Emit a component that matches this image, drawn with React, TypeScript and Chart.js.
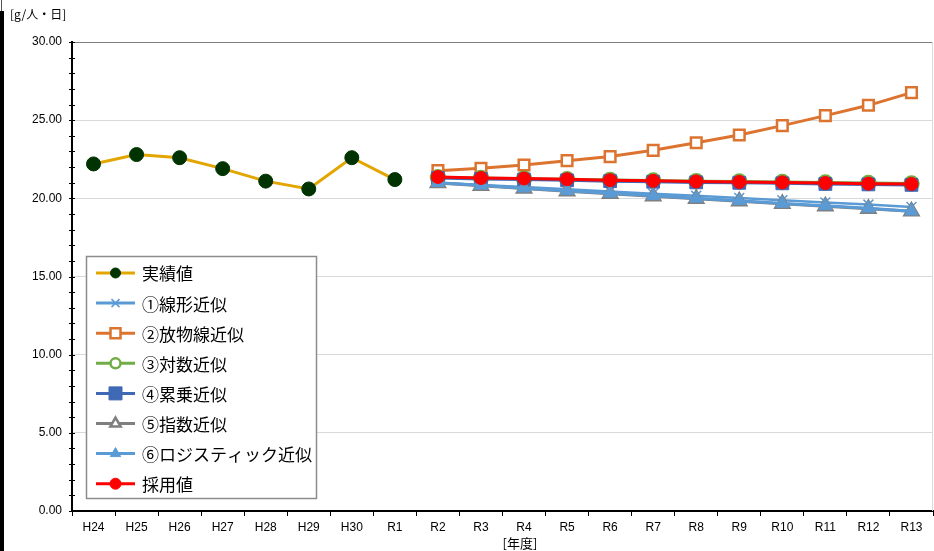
import React, { useEffect, useRef } from 'react';
import { Chart, registerables } from 'chart.js';

Chart.register(...registerables);

const categories = ['H24', 'H25', 'H26', 'H27', 'H28', 'H29', 'H30', 'R1', 'R2', 'R3', 'R4', 'R5', 'R6', 'R7', 'R8', 'R9', 'R10', 'R11', 'R12', 'R13'];
const yTickValues = [0, 5, 10, 15, 20, 25, 30];

const actualValues = [22.2, 22.8, 22.6, 21.9, 21.1, 20.6, 22.6, 21.2];
const linearValues = [21.0, 20.86, 20.72, 20.58, 20.44, 20.3, 20.16, 20.02, 19.88, 19.74, 19.6, 19.45];
const parabolicValues = [21.77, 21.92, 22.13, 22.41, 22.67, 23.07, 23.56, 24.05, 24.65, 25.29, 25.95, 26.76];
const logarithmicValues = [21.35, 21.3, 21.26, 21.22, 21.18, 21.14, 21.1, 21.07, 21.04, 21.01, 20.98, 20.95];
const powerValues = [21.3, 21.24, 21.2, 21.15, 21.1, 21.06, 21.02, 20.99, 20.96, 20.92, 20.89, 20.86];
const exponentialValues = [20.98, 20.81, 20.63, 20.46, 20.29, 20.13, 19.97, 19.81, 19.65, 19.49, 19.33, 19.17];
const logisticValues = [21.0, 20.83, 20.65, 20.48, 20.32, 20.16, 20.0, 19.84, 19.67, 19.52, 19.36, 19.18];
const adoptedValues = [21.37, 21.3, 21.27, 21.22, 21.16, 21.12, 21.08, 21.05, 21.02, 20.98, 20.94, 20.92];

const seriesNames = ['実績値', '①線形近似', '②放物線近似', '③対数近似', '④累乗近似', '⑤指数近似', '⑥ロジスティック近似', '採用値'];

const padActual = (arr: number[]) => [...arr, ...Array(categories.length - arr.length).fill(null)];
const padForecast = (arr: number[]) => [...Array(categories.length - arr.length).fill(null), ...arr];

type LegendSpec = { style: string; r: number; fill: string; stroke: string; lw: number; line: string; lineW: number };

const legendSpecs: LegendSpec[] = [
  { style: 'circle', r: 5, fill: '#003300', stroke: '#003300', lw: 1, line: '#E3A600', lineW: 3 },
  { style: 'crossRot', r: 4, fill: '#5B9BD5', stroke: '#5B9BD5', lw: 1.5, line: '#5B9BD5', lineW: 3 },
  { style: 'rect', r: 5, fill: '#FFFFFF', stroke: '#DC7430', lw: 2.5, line: '#DC7430', lineW: 3 },
  { style: 'circle', r: 5, fill: '#FFFFFF', stroke: '#70AD47', lw: 2.5, line: '#70AD47', lineW: 3 },
  { style: 'rect', r: 6.5, fill: '#3F68B5', stroke: '#3F68B5', lw: 1, line: '#3F68B5', lineW: 3 },
  { style: 'triangle', r: 6, fill: '#FFFFFF', stroke: '#7F7F7F', lw: 2.5, line: '#7F7F7F', lineW: 3 },
  { style: 'triangle', r: 6, fill: '#5B9BD5', stroke: '#5B9BD5', lw: 1, line: '#5B9BD5', lineW: 3 },
  { style: 'circle', r: 5.5, fill: '#FF0000', stroke: '#FF0000', lw: 1, line: '#FF0000', lineW: 3 },
];

function drawMarker(ctx: CanvasRenderingContext2D, s: LegendSpec, x: number, y: number) {
  const r = s.r;
  ctx.beginPath();
  if (s.style === 'circle') {
    ctx.arc(x, y, r, 0, Math.PI * 2);
  } else if (s.style === 'rect') {
    ctx.rect(x - r, y - r, 2 * r, 2 * r);
  } else if (s.style === 'triangle') {
    ctx.moveTo(x, y - r);
    ctx.lineTo(x + r * 0.866, y + r * 0.5);
    ctx.lineTo(x - r * 0.866, y + r * 0.5);
    ctx.closePath();
  } else if (s.style === 'crossRot') {
    ctx.moveTo(x - r, y - r);
    ctx.lineTo(x + r, y + r);
    ctx.moveTo(x - r, y + r);
    ctx.lineTo(x + r, y - r);
  }
  if (s.style !== 'crossRot') {
    ctx.fillStyle = s.fill;
    ctx.fill();
  }
  ctx.strokeStyle = s.stroke;
  ctx.lineWidth = s.lw;
  ctx.stroke();
}

const decorPlugin = {
  id: 'decor',
  afterDraw(chart: any) {
    const ctx: CanvasRenderingContext2D = chart.ctx;
    const area = chart.chartArea;
    const yScale = chart.scales.y;
    ctx.save();
    ctx.strokeStyle = '#D9D9D9';
    ctx.lineWidth = 1;
    ctx.beginPath();
    ctx.moveTo(area.right - 0.5, area.top);
    ctx.lineTo(area.right - 0.5, area.bottom);
    ctx.stroke();
    ctx.strokeStyle = '#000000';
    ctx.lineWidth = 1;
    for (let v = 0; v <= 30; v++) {
      const y = Math.round(yScale.getPixelForValue(v)) + 0.5;
      ctx.beginPath();
      ctx.moveTo(area.left - 3, y);
      ctx.lineTo(area.left + 3, y);
      ctx.stroke();
    }
    const x0 = 86.5, y0 = 256.5, w = 230, h = 242;
    ctx.fillStyle = '#FFFFFF';
    ctx.fillRect(x0, y0, w, h);
    ctx.strokeStyle = '#8C8C8C';
    ctx.lineWidth = 1.5;
    ctx.strokeRect(x0, y0, w, h);
    ctx.font = '17px "Noto Sans CJK JP"';
    ctx.textBaseline = 'middle';
    ctx.textAlign = 'left';
    seriesNames.forEach((name, i) => {
      const y = 273 + i * 30.1;
      const s = legendSpecs[i];
      ctx.strokeStyle = s.line;
      ctx.lineWidth = s.lineW;
      ctx.beginPath();
      ctx.moveTo(96, y);
      ctx.lineTo(135, y);
      ctx.stroke();
      drawMarker(ctx, s, 115.5, y);
      ctx.fillStyle = '#000000';
      ctx.fillText(name, 142, y + 1);
    });
    ctx.restore();
  },
};

export default function App() {
  const canvasRef = useRef<HTMLCanvasElement | null>(null);

  useEffect(() => {
    if (!canvasRef.current) return;
    const datasets = [
      {
        label: seriesNames[0], data: padActual(actualValues), borderColor: '#E3A600', backgroundColor: '#003300',
        borderWidth: 3, pointStyle: 'circle', pointRadius: 7, pointBorderColor: '#003300', pointBackgroundColor: '#003300', pointBorderWidth: 1,
      },
      {
        label: seriesNames[1], data: padForecast(linearValues), borderColor: '#5B9BD5', backgroundColor: '#5B9BD5',
        borderWidth: 2.5, pointStyle: 'crossRot', pointRadius: 7, pointBorderColor: '#5B9BD5', pointBorderWidth: 1.5,
      },
      {
        label: seriesNames[2], data: padForecast(parabolicValues), borderColor: '#DC7430', backgroundColor: '#FFFFFF',
        borderWidth: 3, pointStyle: 'rect', pointRadius: 7.5, pointBorderColor: '#DC7430', pointBackgroundColor: '#FFFFFF', pointBorderWidth: 2.5,
      },
      {
        label: seriesNames[3], data: padForecast(logarithmicValues), borderColor: '#70AD47', backgroundColor: '#FFFFFF',
        borderWidth: 3, pointStyle: 'circle', pointRadius: 7, pointBorderColor: '#70AD47', pointBackgroundColor: '#70AD47', pointBorderWidth: 2.5,
      },
      {
        label: seriesNames[4], data: padForecast(powerValues), borderColor: '#3F68B5', backgroundColor: '#3F68B5',
        borderWidth: 3, pointStyle: 'rect', pointRadius: 9, pointBorderColor: '#3F68B5', pointBackgroundColor: '#3F68B5', pointBorderWidth: 1,
      },
      {
        label: seriesNames[5], data: padForecast(exponentialValues), borderColor: '#7F7F7F', backgroundColor: '#FFFFFF',
        borderWidth: 3, pointStyle: 'triangle', pointRadius: 8, pointBorderColor: '#7F7F7F', pointBackgroundColor: '#FFFFFF', pointBorderWidth: 2.5,
      },
      {
        label: seriesNames[6], data: padForecast(logisticValues), borderColor: '#5B9BD5', backgroundColor: '#5B9BD5',
        borderWidth: 3, pointStyle: 'triangle', pointRadius: 7.5, pointBorderColor: '#5B9BD5', pointBackgroundColor: '#5B9BD5', pointBorderWidth: 1,
      },
      {
        label: seriesNames[7], data: padForecast(adoptedValues), borderColor: '#FF0000', backgroundColor: '#FF0000',
        borderWidth: 3, pointStyle: 'circle', pointRadius: 6.5, pointBorderColor: '#FF0000', pointBackgroundColor: '#FF0000', pointBorderWidth: 1,
      },
    ].map((d, i) => ({ ...d, order: 7 - i, tension: 0, spanGaps: false, pointHoverRadius: d.pointRadius }));

    const chart = new Chart(canvasRef.current, {
      type: 'line',
      data: { labels: categories, datasets: datasets as any },
      options: {
        animation: false,
        responsive: false,
        devicePixelRatio: 1,
        layout: { autoPadding: false, padding: { left: 0, top: 42, right: 1, bottom: 0 } },
        plugins: { legend: { display: false }, tooltip: { enabled: false } },
        scales: {
          x: {
            offset: true,
            grid: { offset: true, drawOnChartArea: false, drawTicks: true, tickLength: 5, tickColor: '#000000' },
            border: { display: true, color: '#000000', width: 2 },
            ticks: { color: '#000000', font: { family: '"Liberation Sans", Arial', size: 12 }, padding: 4, maxRotation: 0, autoSkip: false },
            afterFit: (scale: any) => { scale.height = 40; scale.paddingLeft = 0; scale.paddingRight = 0; },
          },
          y: {
            min: 0,
            max: 30,
            afterBuildTicks: (scale: any) => { scale.ticks = yTickValues.map((v) => ({ value: v })); },
            grid: {
              drawTicks: false,
              tickLength: 0,
              color: (c: any) => (c.tick && c.tick.value === 30 ? '#7F7F7F' : '#D9D9D9'),
              lineWidth: (c: any) => (c.tick && c.tick.value === 0 ? 0 : 1),
            },
            border: { display: true, color: '#000000', width: 2 },
            ticks: {
              color: '#000000',
              font: { family: '"Liberation Sans", Arial', size: 12 },
              padding: 10,
              callback: (v: any) => Number(v).toFixed(2),
            },
            afterFit: (scale: any) => { scale.width = 72; scale.paddingTop = 0; scale.paddingBottom = 0; },
          },
        },
      },
      plugins: [decorPlugin],
    });
    return () => chart.destroy();
  }, []);

  return (
    <div style={{ position: 'fixed', left: 0, top: 0, width: 934, height: 551, background: '#FFFFFF', overflow: 'hidden' }}>
      <canvas ref={canvasRef} width={934} height={551} style={{ display: 'block', width: 934, height: 551 }} />
      <div style={{ position: 'absolute', left: 0, top: 11, width: 4, height: 540, background: '#000000' }} />
      <div style={{ position: 'absolute', left: 1, top: 0, width: 1, height: 11, background: '#555555' }} />
      <div style={{ position: 'absolute', left: 10, top: 5, font: '12px "Noto Sans CJK JP"', color: '#000000', whiteSpace: 'nowrap' }}>[g/人・日]</div>
      <div style={{ position: 'absolute', left: 494, top: 533, width: 52, textAlign: 'center', font: '13px "Noto Sans CJK JP"', color: '#000000', whiteSpace: 'nowrap' }}>[年度]</div>
    </div>
  );
}
